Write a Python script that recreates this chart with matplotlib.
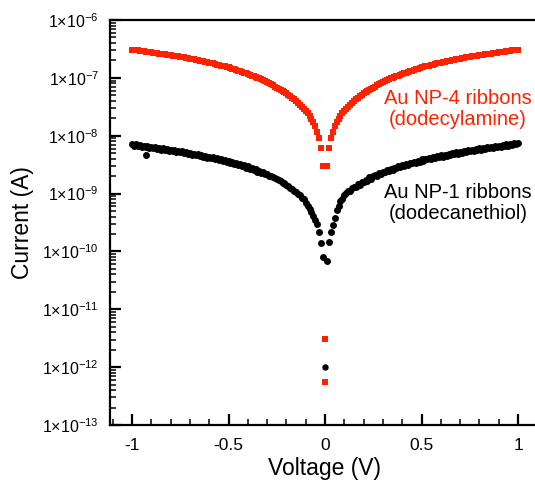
import numpy as np
import matplotlib
matplotlib.use("Agg")
import matplotlib.pyplot as plt
from matplotlib.ticker import FixedLocator, FixedFormatter, LogLocator, MultipleLocator, NullFormatter

plt.rcParams['font.family'] = ['Liberation Sans', 'DejaVu Sans']
plt.rcParams['mathtext.fontset'] = 'custom'
plt.rcParams['mathtext.rm'] = 'Liberation Sans'
plt.rcParams['mathtext.it'] = 'Liberation Sans:italic'

# sweep step 0.01 V; |V| = 0.01 .. 1.00
v_step = 0.01
n_pts = 100

# log10(current / A).
# red curve is symmetric to within a pixel, so one list serves both polarities
red_log = [-8.52, -8.21, -8.04, -7.93, -7.84, -7.77, -7.71, -7.66, -7.61, -7.57,
           -7.535, -7.50, -7.465, -7.43, -7.40, -7.37, -7.345, -7.32, -7.295, -7.27,
           -7.25, -7.23, -7.21, -7.19, -7.17, -7.15, -7.125, -7.10, -7.085, -7.07,
           -7.055, -7.04, -7.025, -7.01, -6.995, -6.98, -6.97, -6.96, -6.945, -6.93,
           -6.92, -6.91, -6.90, -6.89, -6.875, -6.86, -6.85, -6.84, -6.83, -6.82,
           -6.81, -6.80, -6.795, -6.79, -6.78, -6.77, -6.76, -6.75, -6.745, -6.74,
           -6.73, -6.72, -6.715, -6.71, -6.70, -6.69, -6.685, -6.68, -6.675, -6.67,
           -6.66, -6.65, -6.645, -6.64, -6.635, -6.63, -6.625, -6.62, -6.615, -6.61,
           -6.605, -6.60, -6.595, -6.59, -6.585, -6.58, -6.575, -6.57, -6.565, -6.56,
           -6.555, -6.55, -6.545, -6.54, -6.535, -6.53, -6.527, -6.525, -6.522, -6.52]
red_zero_log = [-11.52, -12.26]

black_pos_log = [-10.17, -9.84, -9.66, -9.55, -9.42, -9.29, -9.22, -9.13, -9.09, -9.03,
                 -8.99, -8.96, -8.96, -8.91, -8.89, -8.88, -8.84, -8.85, -8.80, -8.80,
                 -8.77, -8.78, -8.72, -8.74, -8.70, -8.68, -8.69, -8.65, -8.66, -8.62,
                 -8.63, -8.60, -8.61, -8.57, -8.59, -8.55, -8.56, -8.53, -8.54, -8.51,
                 -8.52, -8.49, -8.51, -8.47, -8.48, -8.45, -8.47, -8.43, -8.45, -8.41,
                 -8.43, -8.40, -8.41, -8.38, -8.40, -8.37, -8.38, -8.35, -8.37, -8.34,
                 -8.36, -8.33, -8.35, -8.32, -8.33, -8.30, -8.32, -8.29, -8.31, -8.28,
                 -8.30, -8.27, -8.28, -8.25, -8.27, -8.24, -8.26, -8.23, -8.25, -8.22,
                 -8.24, -8.21, -8.23, -8.20, -8.22, -8.19, -8.21, -8.18, -8.20, -8.17,
                 -8.19, -8.16, -8.18, -8.15, -8.17, -8.14, -8.16, -8.13, -8.15, -8.13]
black_neg_log = [-10.10, -9.85, -9.67, -9.53, -9.45, -9.38, -9.31, -9.26, -9.21, -9.16,
                 -9.10, -9.07, -9.03, -9.01, -8.97, -8.95, -8.92, -8.91, -8.87, -8.86,
                 -8.82, -8.82, -8.78, -8.77, -8.75, -8.73, -8.72, -8.69, -8.70, -8.66,
                 -8.67, -8.63, -8.64, -8.61, -8.62, -8.58, -8.60, -8.56, -8.57, -8.53,
                 -8.55, -8.51, -8.53, -8.49, -8.51, -8.47, -8.49, -8.45, -8.47, -8.43,
                 -8.45, -8.42, -8.44, -8.40, -8.42, -8.39, -8.40, -8.37, -8.39, -8.36,
                 -8.38, -8.35, -8.37, -8.33, -8.35, -8.32, -8.34, -8.31, -8.33, -8.30,
                 -8.32, -8.29, -8.30, -8.27, -8.29, -8.26, -8.28, -8.25, -8.27, -8.24,
                 -8.26, -8.23, -8.25, -8.22, -8.24, -8.21, -8.23, -8.20, -8.22, -8.19,
                 -8.21, -8.18, -8.20, -8.17, -8.19, -8.16, -8.18, -8.15, -8.17, -8.14]
black_zero_log = [-12.0]
black_outlier_v = [-0.93]
black_outlier_log = [-8.33]

y_tick_exp = [-13, -12, -11, -10, -9, -8, -7, -6]
x_ticks = [-1, -0.5, 0, 0.5, 1]
x_tick_labels = ['-1', '-0.5', '0', '0.5', '1']

red = '#ff2200'

v_abs = np.round(np.arange(1, n_pts + 1) * v_step, 2)

fig = plt.figure(figsize=(5.35, 4.82), dpi=100)
ax = fig.add_axes([110 / 535, 57 / 482, 1 - 110 / 535, (425 - 20) / 482])

# Au NP-1 (black circles)
ax.plot(-v_abs, 10.0 ** np.array(black_neg_log), 'o', color='black', ms=5.0, mew=0)
ax.plot(v_abs, 10.0 ** np.array(black_pos_log), 'o', color='black', ms=5.0, mew=0)
ax.plot(black_outlier_v, 10.0 ** np.array(black_outlier_log), 'o', color='black', ms=5.0, mew=0)
ax.plot([0] * len(black_zero_log), 10.0 ** np.array(black_zero_log), 'o', color='black', ms=4.6, mew=0)

# Au NP-4 (red squares)
red_i = 10.0 ** np.array(red_log)
ax.plot(-v_abs, red_i, 's', color=red, ms=4.6, mew=0)
ax.plot(v_abs, red_i, 's', color=red, ms=4.6, mew=0)
ax.plot([0] * len(red_zero_log), 10.0 ** np.array(red_zero_log), 's', color=red, ms=4.2, mew=0)

ax.set_yscale('log')
ax.set_ylim(1e-13, 1e-6)
ax.set_xlim(-1.114, 1.088)

ax.yaxis.set_major_locator(FixedLocator([10.0 ** e for e in y_tick_exp]))
ax.yaxis.set_major_formatter(FixedFormatter([r'$1{\times}10^{%d}$' % e for e in y_tick_exp]))
ax.yaxis.set_minor_locator(LogLocator(base=10, subs=np.arange(2, 10), numticks=20))
ax.yaxis.set_minor_formatter(NullFormatter())

ax.xaxis.set_major_locator(FixedLocator(x_ticks))
ax.xaxis.set_major_formatter(FixedFormatter(x_tick_labels))
ax.xaxis.set_minor_locator(MultipleLocator(0.1))

ax.spines['right'].set_visible(False)
for s in ['left', 'bottom', 'top']:
    ax.spines[s].set_linewidth(1.6)

ax.tick_params(which='both', direction='in', top=False, right=False)
ax.tick_params(which='major', length=8, width=1.6)
ax.tick_params(which='minor', length=4, width=1.1)
ax.tick_params(axis='y', which='major', labelsize=11.5, pad=8)
ax.tick_params(axis='x', which='major', labelsize=12.5, pad=9)

fig.text(22 / 535, 1 - 223 / 482, 'Current (A)', rotation=90, ha='center', va='center', fontsize=16.5)
fig.text(325 / 535, 1 - 468 / 482, 'Voltage (V)', ha='center', va='center', fontsize=16.5)

fig.text(458 / 535, 1 - 109 / 482, 'Au NP-4 ribbons\n(dodecylamine)', color=red,
         ha='center', va='center', fontsize=14.5, linespacing=1.1)
fig.text(458 / 535, 1 - 203 / 482, 'Au NP-1 ribbons\n(dodecanethiol)', color='black',
         ha='center', va='center', fontsize=14.5, linespacing=1.1)

fig.savefig('out.png', dpi=100)
